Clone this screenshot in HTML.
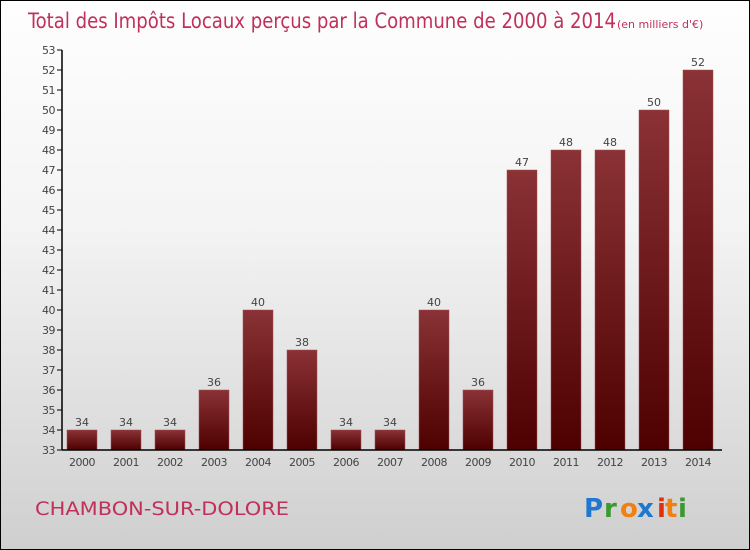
<!DOCTYPE html>
<html><head><meta charset="utf-8"><style>
body{margin:0}
#wrap{position:relative;width:748px;height:548px;border:1px solid #000;background:linear-gradient(#fefefe,#f4f4f4 40%,#cfcfcf);font-family:"DejaVu Sans","Liberation Sans",sans-serif;overflow:hidden}
</style></head><body>
<div id="wrap">
<svg id="chart" width="748" height="548">
<defs><linearGradient id="bg" x1="0" y1="0" x2="0" y2="1"><stop offset="0" stop-color="#8a3236"/><stop offset="1" stop-color="#4e0000"/></linearGradient></defs>
<text x="27" y="27" font-size="21" fill="#c0305a" style="font-family:'DejaVu Sans Condensed','DejaVu Sans',sans-serif;font-weight:200" textLength="588" lengthAdjust="spacingAndGlyphs">Total des Impôts Locaux perçus par la Commune de 2000 à 2014</text>
<text x="616" y="27" font-size="11" fill="#c0305a">(en milliers d'€)</text>
<text x="34" y="514" font-size="19" fill="#c0305a" textLength="254" lengthAdjust="spacingAndGlyphs">CHAMBON-SUR-DOLORE</text>
<g font-size="26" font-family="'DejaVu Sans',sans-serif" font-weight="bold">
<text x="583" y="516" fill="#1e78d0">P</text><text x="603" y="516" fill="#3a9a30">r</text><text x="619" y="516" fill="#f08010">o</text><text x="636" y="516" fill="#1e78d0">x</text><text x="656" y="516" fill="#e03010">i</text><text x="664" y="516" fill="#f08010">t</text><text x="677" y="516" fill="#3a9a30">i</text>
</g>
<g id="g"></g>
</svg>
</div>
<script>
const years=["2000","2001","2002","2003","2004","2005","2006","2007","2008","2009","2010","2011","2012","2013","2014"];
const values=[34,34,34,36,40,38,34,34,40,36,47,48,48,50,52];
const yTicks=[33,34,35,36,37,38,39,40,41,42,43,44,45,46,47,48,49,50,51,52,53];
const NS="http://www.w3.org/2000/svg";
const g=document.getElementById('g');
const y=v=>449-(v-33)*20;
const x=i=>81+i*44;
function el(t,a){const e=document.createElementNS(NS,t);for(const k in a)e.setAttribute(k,a[k]);g.appendChild(e);return e;}
yTicks.forEach(t=>{
 const l=el('line',{x1:56,x2:61,y1:y(t),y2:y(t),stroke:'#000'});
 
 
 const tx=el('text',{x:54,y:y(t)+4,'font-size':11,'text-anchor':'end',fill:'#444','letter-spacing':'-0.5'});
 tx.textContent=t;
 
 
});
values.forEach((v,i)=>{
 const r=el('rect',{x:x(i)-15,y:y(v),width:30,height:y(33)-y(v),fill:'url(#bg)',stroke:'#a05050','stroke-width':0.5});
 
 
 const t=el('text',{x:x(i),y:y(v)-4,'font-size':11,'text-anchor':'middle',fill:'#444'});
 t.textContent=v;
 
 
 const xl=el('text',{x:x(i),y:465,'font-size':11,'text-anchor':'middle',fill:'#444','letter-spacing':'-0.5'});
 xl.textContent=years[i];
 
 
});
const ya=el('line',{x1:61,x2:61,y1:y(53),y2:y(33),stroke:'#000','stroke-width':1.5});


const xa=el('line',{x1:61,x2:721,y1:y(33),y2:y(33),stroke:'#000','stroke-width':1.5});


</script>
</body></html>
